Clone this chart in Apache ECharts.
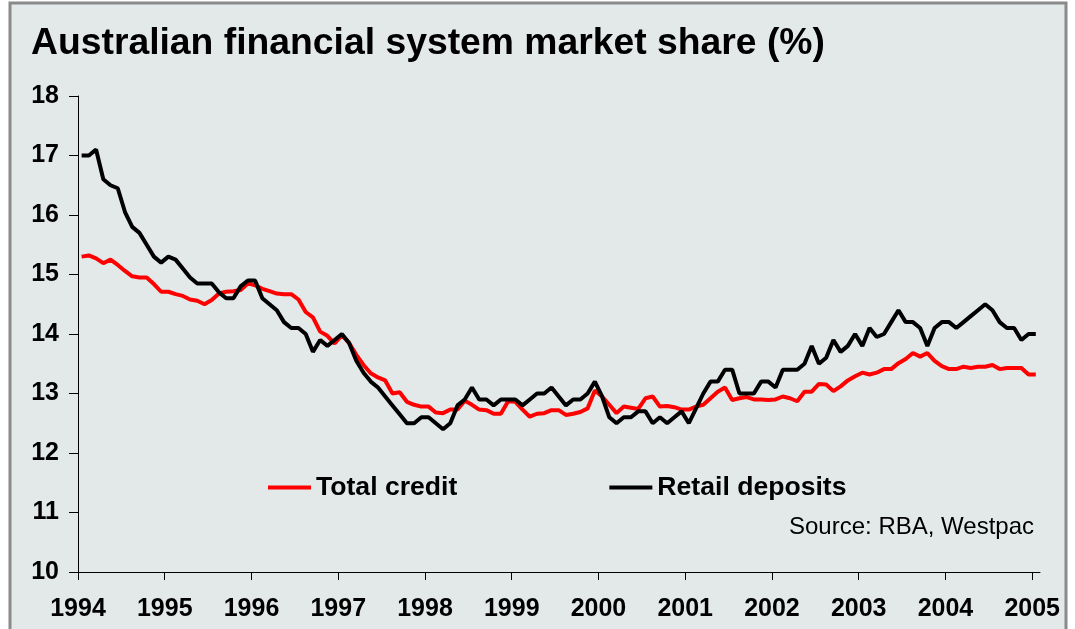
<!DOCTYPE html>
<html>
<head>
<meta charset="utf-8">
<title>Australian financial system market share</title>
<script src="https://cdn.jsdelivr.net/npm/echarts@6/dist/echarts.min.js"></script>
<style>
  html, body { margin: 0; padding: 0; background: #ffffff; }
  #chart { width: 1075px; height: 629px; }
</style>
</head>
<body>
<div id="chart"></div>
<script>
// Monthly series, January 1994 to January 2005 (market share, %)
const startYear = 1994;

const totalCredit = [
  15.30, 15.32, 15.27, 15.19, 15.25, 15.16, 15.06, 14.97, 14.95, 14.95,
  14.84, 14.71, 14.71, 14.67, 14.64, 14.58, 14.56, 14.50, 14.57, 14.68,
  14.71, 14.72, 14.74, 14.85, 14.82, 14.76, 14.72, 14.68, 14.67, 14.67,
  14.58, 14.37, 14.28, 14.04, 13.97, 13.84, 13.98, 13.85, 13.65, 13.48,
  13.34, 13.27, 13.22, 13.00, 13.02, 12.86, 12.81, 12.78, 12.78, 12.68,
  12.67, 12.73, 12.73, 12.88, 12.81, 12.73, 12.72, 12.66, 12.66, 12.87,
  12.86, 12.73, 12.61, 12.66, 12.67, 12.72, 12.72, 12.64, 12.66, 12.69,
  12.75, 13.05, 12.95, 12.81, 12.67, 12.78, 12.76, 12.74, 12.92, 12.95,
  12.78, 12.79, 12.77, 12.73, 12.73, 12.78, 12.81, 12.92, 13.03, 13.10,
  12.89, 12.92, 12.94, 12.90, 12.90, 12.89, 12.90, 12.95, 12.92, 12.87,
  13.03, 13.03, 13.16, 13.15, 13.04, 13.12, 13.22, 13.29, 13.35, 13.32,
  13.35, 13.41, 13.41, 13.51, 13.58, 13.68, 13.62, 13.68, 13.55, 13.46,
  13.41, 13.41, 13.45, 13.43, 13.45, 13.45, 13.48, 13.41, 13.43, 13.43,
  13.43, 13.32, 13.32
];

const retailDeposits = [
  17.00, 17.00, 17.10, 16.60, 16.50, 16.45, 16.05, 15.80, 15.70, 15.50,
  15.30, 15.20, 15.30, 15.25, 15.10, 14.95, 14.85, 14.85, 14.85, 14.70,
  14.60, 14.60, 14.80, 14.90, 14.90, 14.60, 14.50, 14.40, 14.20, 14.10,
  14.10, 14.00, 13.70, 13.90, 13.80, 13.90, 14.00, 13.85, 13.55, 13.35,
  13.20, 13.10, 12.95, 12.80, 12.65, 12.50, 12.50, 12.60, 12.60, 12.50,
  12.40, 12.50, 12.80, 12.90, 13.10, 12.90, 12.90, 12.80, 12.90, 12.90,
  12.90, 12.80, 12.90, 13.00, 13.00, 13.10, 12.95, 12.80, 12.90, 12.90,
  13.00, 13.20, 12.95, 12.60, 12.50, 12.60, 12.60, 12.70, 12.70, 12.50,
  12.60, 12.50, 12.60, 12.70, 12.50, 12.75, 13.00, 13.20, 13.20, 13.40,
  13.40, 13.00, 13.00, 13.00, 13.20, 13.20, 13.10, 13.40, 13.40, 13.40,
  13.50, 13.80, 13.50, 13.60, 13.90, 13.70, 13.80, 14.00, 13.80, 14.10,
  13.95, 14.00, 14.20, 14.40, 14.20, 14.20, 14.10, 13.80, 14.10, 14.20,
  14.20, 14.10, 14.20, 14.30, 14.40, 14.50, 14.40, 14.20, 14.10, 14.10,
  13.90, 14.00, 14.00
];

const yearTicks = [1994, 1995, 1996, 1997, 1998, 1999, 2000, 2001, 2002, 2003, 2004, 2005];
const seriesNames = ['Total credit', 'Retail deposits'];
const titleText = 'Australian financial system market share (%)';
const sourceText = 'Source: RBA, Westpac';

// Each monthly observation sits in the middle of its month on the time axis
function toPoints(values) {
  return values.map(function (v, i) { return [startYear + (i + 0.5) / 12, v]; });
}

const FONT = "'Liberation Sans', Arial, Helvetica, sans-serif";

const chart = echarts.init(document.getElementById('chart'), null, { renderer: 'canvas' });

chart.setOption({
  animation: false,
  backgroundColor: '#ffffff',
  title: {
    text: titleText,
    left: 26,
    top: 20,
    textStyle: { fontFamily: FONT, fontSize: 37.3, fontWeight: 'bold', color: '#000000' }
  },
  graphic: [
    {
      type: 'rect',
      z: -100,
      silent: true,
      shape: { x: 10, y: 3, width: 1056, height: 660 },
      style: { fill: '#e3e9e9', stroke: '#8a8a8a', lineWidth: 3 }
    },
    {
      type: 'text',
      right: 41,
      top: 515,
      silent: true,
      style: { text: sourceText, fontFamily: FONT, fontSize: 24, fill: '#000000' }
    }
  ],
  legend: {
    data: seriesNames,
    left: 263,
    top: 469,
    icon: 'rect',
    itemWidth: 43,
    itemHeight: 4,
    itemGap: 152,
    textStyle: { fontFamily: FONT, fontSize: 26.6, fontWeight: 'bold', color: '#000000' }
  },
  grid: { left: 78, right: 35, top: 96, bottom: 57, containLabel: false },
  xAxis: {
    type: 'value',
    min: 1994,
    max: 2005.09,
    interval: 1,
    axisLine: { show: true, lineStyle: { color: '#000000', width: 1 } },
    axisTick: { show: true, length: 8, customValues: yearTicks, lineStyle: { color: '#000000' } },
    axisLabel: {
      customValues: yearTicks,
      margin: 25,
      fontFamily: FONT, fontSize: 25, fontWeight: 'bold', color: '#000000',
      formatter: function (v) { return String(Math.round(v)); }
    },
    splitLine: { show: false }
  },
  yAxis: {
    type: 'value',
    min: 10,
    max: 18,
    interval: 1,
    axisLine: { show: true, lineStyle: { color: '#000000', width: 1 } },
    axisTick: { show: true, length: 9, lineStyle: { color: '#000000' } },
    axisLabel: { margin: 19, fontFamily: FONT, fontSize: 25, fontWeight: 'bold', color: '#000000' },
    splitLine: { show: false }
  },
  series: [
    {
      name: seriesNames[0],
      type: 'line',
      data: toPoints(totalCredit),
      showSymbol: false,
      color: '#ff0000',
      lineStyle: { color: '#ff0000', width: 4 },
      z: 2
    },
    {
      name: seriesNames[1],
      type: 'line',
      data: toPoints(retailDeposits),
      showSymbol: false,
      color: '#000000',
      lineStyle: { color: '#000000', width: 4 },
      z: 3
    }
  ]
});
</script>
</body>
</html>
